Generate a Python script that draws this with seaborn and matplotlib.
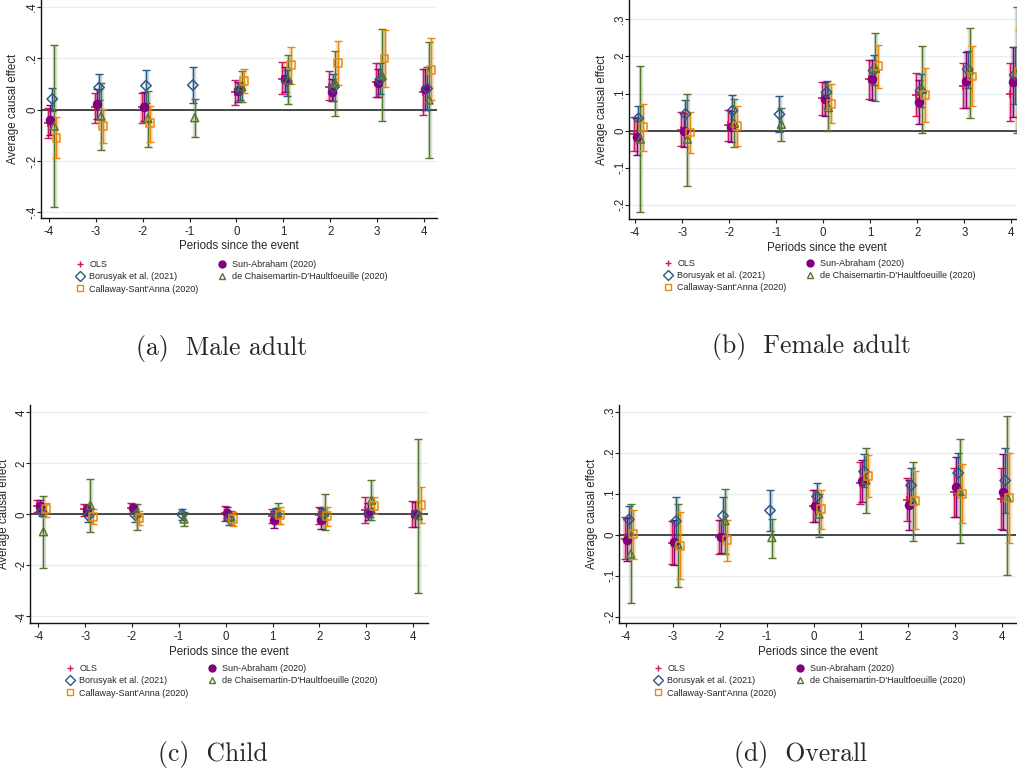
import numpy as np
import pandas as pd
import matplotlib
matplotlib.use("Agg")
import matplotlib.pyplot as plt
from matplotlib.lines import Line2D
import seaborn as sns

nan = np.nan
periods = [-4, -3, -2, -1, 0, 1, 2, 3, 4]

# ---- (a) Male adult ----
male_ols = [-0.05, 0.01, 0.01, nan, 0.07, 0.12, 0.09, 0.11, 0.07]
male_ols_lo = [-0.11, -0.05, -0.05, nan, 0.02, 0.06, 0.04, 0.05, -0.02]
male_ols_hi = [0.005, 0.066, 0.066, nan, 0.116, 0.185, 0.151, 0.183, 0.16]
male_sa = [-0.038, 0.023, 0.012, nan, 0.074, 0.121, 0.069, 0.105, 0.082]
male_sa_lo = [-0.1, -0.035, -0.045, nan, 0.03, 0.07, 0.035, 0.05, 0.0]
male_sa_hi = [0.02, 0.08, 0.07, nan, 0.11, 0.165, 0.12, 0.16, 0.16]
male_bjs = [0.042, 0.087, 0.094, 0.096, 0.079, 0.112, 0.087, 0.118, 0.083]
male_bjs_lo = [-0.005, 0.038, 0.027, 0.025, 0.038, 0.053, 0.035, 0.061, 0.0]
male_bjs_hi = [0.086, 0.139, 0.157, 0.168, 0.105, 0.157, 0.138, 0.181, 0.165]
male_dcdh = [-0.064, -0.025, -0.034, -0.031, 0.09, 0.116, 0.103, 0.133, 0.038]
male_dcdh_lo = [-0.381, -0.157, -0.144, -0.105, 0.031, 0.022, -0.025, -0.045, -0.19]
male_dcdh_hi = [0.251, 0.105, 0.075, 0.043, 0.152, 0.212, 0.228, 0.313, 0.263]
male_cs = [-0.109, -0.062, -0.053, nan, 0.112, 0.173, 0.183, 0.2, 0.156]
male_cs_lo = [-0.19, -0.131, -0.124, nan, 0.064, 0.1, 0.096, 0.09, 0.038]
male_cs_hi = [-0.03, 0.004, 0.014, nan, 0.16, 0.244, 0.267, 0.311, 0.28]

# ---- (b) Female adult ----
female_ols = [-0.01, 0.003, 0.014, nan, 0.087, 0.138, 0.097, 0.12, 0.1]
female_ols_lo = [-0.055, -0.041, -0.028, nan, 0.042, 0.085, 0.04, 0.06, 0.026]
female_ols_hi = [0.036, 0.05, 0.056, nan, 0.132, 0.191, 0.154, 0.183, 0.181]
female_sa = [-0.017, 0.0, 0.011, nan, 0.085, 0.139, 0.077, 0.134, 0.13]
female_sa_lo = [-0.066, -0.043, -0.03, nan, 0.04, 0.083, 0.017, 0.06, 0.036]
female_sa_hi = [0.033, 0.048, 0.053, nan, 0.13, 0.19, 0.137, 0.213, 0.226]
female_bjs = [0.033, 0.045, 0.054, 0.044, 0.103, 0.162, 0.108, 0.165, 0.15]
female_bjs_lo = [0.0, 0.008, 0.01, -0.003, 0.06, 0.123, 0.064, 0.116, 0.071]
female_bjs_hi = [0.065, 0.082, 0.096, 0.092, 0.134, 0.204, 0.153, 0.215, 0.226]
female_dcdh = [-0.023, -0.023, 0.02, 0.017, 0.062, 0.168, 0.111, 0.164, 0.159]
female_dcdh_lo = [-0.22, -0.149, -0.043, -0.029, 0.0, 0.08, -0.007, 0.034, -0.007]
female_dcdh_hi = [0.174, 0.099, 0.084, 0.062, 0.125, 0.264, 0.228, 0.276, 0.333]
female_cs = [0.009, -0.005, 0.013, nan, 0.072, 0.173, 0.097, 0.146, 0.158]
female_cs_lo = [-0.054, -0.061, -0.041, nan, 0.02, 0.116, 0.023, 0.066, 0.04]
female_cs_hi = [0.071, 0.05, 0.066, nan, 0.126, 0.23, 0.168, 0.227, 0.27]

# ---- (c) Child ----
child_ols = [0.33, 0.2, 0.26, nan, 0.05, -0.05, -0.03, 0.17, 0.02]
child_ols_lo = [0.1, -0.05, 0.05, nan, -0.25, -0.32, -0.37, -0.33, -0.48]
child_ols_hi = [0.56, 0.39, 0.46, nan, 0.33, 0.22, 0.3, 0.67, 0.52]
child_sa = [0.34, 0.17, 0.24, nan, 0.04, -0.23, -0.2, 0.07, 0.01]
child_sa_lo = [0.12, -0.03, 0.06, nan, -0.2, -0.55, -0.57, -0.2, -0.48]
child_sa_hi = [0.56, 0.37, 0.42, nan, 0.3, 0.12, 0.25, 0.45, 0.5]
child_bjs = [0.1, -0.05, -0.03, 0.0, -0.16, 0.04, 0.0, 0.06, 0.02]
child_bjs_lo = [-0.08, -0.3, -0.3, -0.22, -0.42, -0.15, -0.25, -0.1, -0.06]
child_bjs_hi = [0.3, 0.2, 0.2, 0.22, 0.1, 0.25, 0.28, 0.25, 0.1]
child_dcdh = [-0.68, 0.36, 0.06, -0.18, -0.1, 0.05, 0.08, 0.56, -0.05]
child_dcdh_lo = [-2.11, -0.7, -0.61, -0.46, -0.4, -0.39, -0.61, -0.22, -3.07]
child_dcdh_hi = [0.74, 1.4, 0.39, 0.1, 0.15, 0.43, 0.81, 1.36, 2.95]
child_cs = [0.2, -0.09, -0.13, nan, -0.17, -0.03, -0.07, 0.33, 0.37]
child_cs_lo = [-0.09, -0.39, -0.42, nan, -0.46, -0.39, -0.46, 0.0, -0.33]
child_cs_hi = [0.46, 0.23, 0.15, nan, 0.1, 0.3, 0.3, 0.67, 1.08]

# ---- (d) Overall ----
all_ols = [-0.01, -0.02, -0.005, nan, 0.07, 0.125, 0.085, 0.105, 0.088]
all_ols_lo = [-0.059, -0.072, -0.046, nan, 0.032, 0.075, 0.033, 0.044, 0.013]
all_ols_hi = [0.042, 0.034, 0.036, nan, 0.109, 0.176, 0.139, 0.163, 0.162]
all_sa = [-0.013, -0.018, -0.005, nan, 0.07, 0.13, 0.072, 0.115, 0.105]
all_sa_lo = [-0.065, -0.075, -0.045, nan, 0.03, 0.08, 0.012, 0.043, 0.012]
all_sa_hi = [0.04, 0.035, 0.035, nan, 0.108, 0.182, 0.133, 0.19, 0.197]
all_bjs = [0.037, 0.033, 0.046, 0.059, 0.093, 0.154, 0.12, 0.15, 0.132]
all_bjs_lo = [0.003, -0.02, 0.0, 0.009, 0.06, 0.115, 0.08, 0.1, 0.052]
all_bjs_hi = [0.07, 0.093, 0.093, 0.108, 0.125, 0.196, 0.162, 0.198, 0.212]
all_dcdh = [-0.047, -0.023, 0.034, -0.007, 0.05, 0.133, 0.082, 0.105, 0.091]
all_dcdh_lo = [-0.167, -0.127, -0.046, -0.058, -0.005, 0.054, -0.016, -0.02, -0.098]
all_dcdh_hi = [0.074, 0.075, 0.111, 0.037, 0.1, 0.212, 0.178, 0.233, 0.289]
all_cs = [0.001, -0.027, -0.014, nan, 0.063, 0.144, 0.083, 0.1, 0.09]
all_cs_lo = [-0.06, -0.109, -0.065, nan, 0.015, 0.093, 0.013, 0.028, -0.02]
all_cs_hi = [0.06, 0.055, 0.036, nan, 0.109, 0.194, 0.154, 0.172, 0.2]

estimators = ["OLS", "Borusyak et al. (2021)", "Callaway-Sant'Anna (2020)",
              "Sun-Abraham (2020)", "de Chaisemartin-D'Haultfoeuille (2020)"]

adult_ticks = [-0.4, -0.2, 0, 0.2, 0.4]
adult_labels = ["-.4", "-.2", "0", ".2", ".4"]
female_ticks = [-0.2, -0.1, 0, 0.1, 0.2, 0.3]
female_labels = ["-.2", "-.1", "0", ".1", ".2", ".3"]
child_ticks = [-4, -2, 0, 2, 4]
child_labels = ["-4", "-2", "0", "2", "4"]
all_ticks = [-0.2, -0.1, 0, 0.1, 0.2, 0.3]
all_labels = ["-.2", "-.1", "0", ".1", ".2", ".3"]

# style per estimator: colour, marker, hollow, x shift, marker size
style = {
    "OLS": ("#d1185a", "+", False, -0.02, 28),
    "Sun-Abraham (2020)": ("#80007f", "o", False, 0.03, 32),
    "Borusyak et al. (2021)": ("#2a5a88", "D", True, 0.07, 28),
    "de Chaisemartin-D'Haultfoeuille (2020)": ("#55752f", "^", True, 0.11, 32),
    "Callaway-Sant'Anna (2020)": ("#e88a0c", "s", True, 0.16, 32),
}

sns.set_style("ticks")
plt.rcParams["font.family"] = ["Liberation Sans", "DejaVu Sans"]
plt.rcParams["axes.unicode_minus"] = False

W, H = 1017, 773
fig = plt.figure(figsize=(W / 100, H / 100), dpi=100)


def make_df(ols, ols_lo, ols_hi, sa, sa_lo, sa_hi, bjs, bjs_lo, bjs_hi,
            dcdh, dcdh_lo, dcdh_hi, cs, cs_lo, cs_hi):
    parts = []
    for name, e, lo, hi in [("OLS", ols, ols_lo, ols_hi),
                            ("Sun-Abraham (2020)", sa, sa_lo, sa_hi),
                            ("Borusyak et al. (2021)", bjs, bjs_lo, bjs_hi),
                            ("de Chaisemartin-D'Haultfoeuille (2020)", dcdh, dcdh_lo, dcdh_hi),
                            ("Callaway-Sant'Anna (2020)", cs, cs_lo, cs_hi)]:
        parts.append(pd.DataFrame({"period": periods, "est": e, "lo": lo,
                                   "hi": hi, "estimator": name}))
    return pd.concat(parts, ignore_index=True).dropna()


def px_axes(left, right, top, bottom):
    return fig.add_axes([left / W, 1 - bottom / H, (right - left) / W, (bottom - top) / H])


def draw_panel(ax, df, ticks, labels, ylim, xlim, ylab_x):
    for t in ticks:
        ax.axhline(t, color="#e6eff1", lw=1.0, zorder=0)
    ax.axhline(0, color="#3a3a3a", lw=1.3, zorder=1)
    for name in ["OLS", "Sun-Abraham (2020)", "Borusyak et al. (2021)",
                 "de Chaisemartin-D'Haultfoeuille (2020)", "Callaway-Sant'Anna (2020)"]:
        c, m, hollow, dx, s = style[name]
        d = df[df["estimator"] == name]
        x = d["period"] + dx
        ax.vlines(x + 0.015, d["lo"], d["hi"], color=c, lw=3.2, alpha=0.22, zorder=2)
        ax.errorbar(x, d["est"], yerr=[d["est"] - d["lo"], d["hi"] - d["est"]],
                    fmt="none", ecolor=c, elinewidth=1.0, capsize=2.6, capthick=1.0, zorder=3)
        if hollow:
            sns.scatterplot(x=x, y=d["est"], marker=m, s=s, color=c, facecolors="none",
                            edgecolor=c, linewidth=1.1, ax=ax, zorder=4, legend=False)
        else:
            sns.scatterplot(x=x, y=d["est"], marker=m, s=s, color=c, edgecolor=c,
                            linewidth=1.2, ax=ax, zorder=4, legend=False)
    ax.set_xlim(*xlim)
    ax.set_ylim(*ylim)
    ax.set_xticks(periods, [str(p) for p in periods])
    ax.set_yticks(ticks, labels)
    plt.setp(ax.get_yticklabels(), rotation=90, va="center")
    ax.tick_params(axis="both", labelsize=8.3, length=3, width=0.8, color="#222222")
    ax.tick_params(axis="x", pad=2.5)
    ax.tick_params(axis="y", pad=-1)
    ax.set_xlabel("Periods since the event", fontsize=8.3, labelpad=2)
    ax.set_ylabel("Average causal effect", fontsize=8.3)
    ax.yaxis.set_label_coords(ylab_x, 0.5)
    for side in ["top", "right"]:
        ax.spines[side].set_visible(False)
    for side in ["left", "bottom"]:
        ax.spines[side].set_linewidth(1.0)
        ax.spines[side].set_color("#111111")


def add_legend(x_marker, y_row):
    handles = []
    for name in estimators:
        c, m, hollow, dx, s = style[name]
        handles.append(Line2D([], [], ls="none", marker=m, color=c, markersize=5.0,
                              markerfacecolor="none" if hollow else c,
                              markeredgecolor=c, markeredgewidth=1.0))
    fig.legend(handles, estimators, loc="upper left", ncol=2, frameon=False,
               bbox_to_anchor=((x_marker - 4.5) / W, 1 - (y_row - 7) / H),
               fontsize=6.5, handlelength=1.0, handletextpad=0.55, borderpad=0,
               borderaxespad=0, labelspacing=0.36, columnspacing=2.1)


panels = [
    (px_axes(41, 437, 0, 218),
     make_df(male_ols, male_ols_lo, male_ols_hi, male_sa, male_sa_lo, male_sa_hi,
             male_bjs, male_bjs_lo, male_bjs_hi, male_dcdh, male_dcdh_lo, male_dcdh_hi,
             male_cs, male_cs_lo, male_cs_hi),
     adult_ticks, adult_labels, (-0.422, 0.428), (-4.17, 4.28), -0.056),
    (px_axes(629, 1025, 0, 219.3),
     make_df(female_ols, female_ols_lo, female_ols_hi, female_sa, female_sa_lo, female_sa_hi,
             female_bjs, female_bjs_lo, female_bjs_hi, female_dcdh, female_dcdh_lo, female_dcdh_hi,
             female_cs, female_cs_lo, female_cs_hi),
     female_ticks, female_labels, (-0.239, 0.352), (-4.13, 4.29), -0.053),
    (px_axes(30.3, 427.7, 405, 623.3),
     make_df(child_ols, child_ols_lo, child_ols_hi, child_sa, child_sa_lo, child_sa_hi,
             child_bjs, child_bjs_lo, child_bjs_hi, child_dcdh, child_dcdh_lo, child_dcdh_hi,
             child_cs, child_cs_lo, child_cs_hi),
     child_ticks, child_labels, (-4.27, 4.29), (-4.17, 4.31), -0.05),
    (px_axes(619, 1016, 405, 623.3),
     make_df(all_ols, all_ols_lo, all_ols_hi, all_sa, all_sa_lo, all_sa_hi,
             all_bjs, all_bjs_lo, all_bjs_hi, all_dcdh, all_dcdh_lo, all_dcdh_hi,
             all_cs, all_cs_lo, all_cs_hi),
     all_ticks, all_labels, (-0.216, 0.316), (-4.14, 4.3), -0.054),
]

for ax, df, ticks, labels, ylim, xlim, ylab_x in panels:
    draw_panel(ax, df, ticks, labels, ylim, xlim, ylab_x)

add_legend(80, 267)
add_legend(668, 266)
add_legend(70, 671)
add_legend(658, 671)

captions = [("(a)  Male adult", 222, 349), ("(b)  Female adult", 811, 347),
            ("(c)  Child", 213, 755), ("(d)  Overall", 801, 755)]
for text, cx, cy in captions:
    fig.text(cx / W, 1 - cy / H, text, family="cmr10", fontsize=18.5,
             ha="center", va="center")

fig.savefig("out.png", dpi=100)
